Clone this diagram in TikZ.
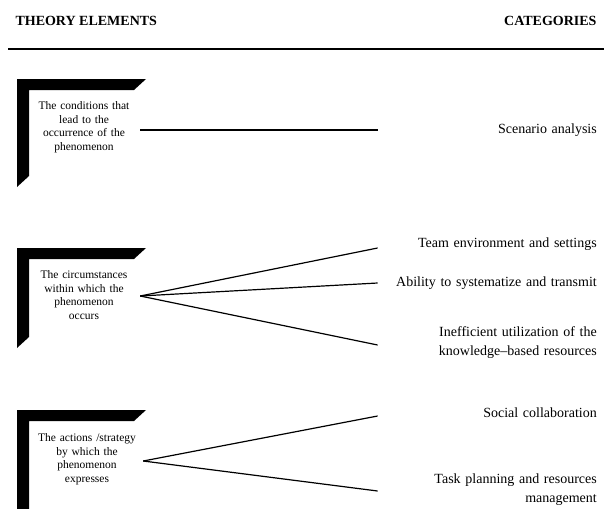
\documentclass[tikz,border=0pt]{standalone}
\usepackage{fontspec}
\setmainfont{Liberation Serif}
\usetikzlibrary{positioning}

\tikzset{
  element/.style={align=center, text width=100pt, inner xsep=6pt, font=\fontsize{11.5}{13.5}\selectfont},
  category/.style={anchor=east, align=right, text width=216pt, inner sep=3pt, font=\fontsize{14}{19}\selectfont},
  header/.style={font=\fontsize{14}{16}\selectfont\bfseries},
  link/.style={line width=1.2pt},
}

\begin{document}
\begin{tikzpicture}[x=1pt,y=-1pt]
  \useasboundingbox (0,0) rectangle (611,509);
  % headers and rule
  \node[header, anchor=west] (hl) at (12,21) {THEORY ELEMENTS};
  \node[header, anchor=east] (hr) at (600,21) {CATEGORIES};
  \draw[line width=2.6pt] (8,49) -- (604,49);
  % frames
  \foreach \t/\b in {79/187, 248/348, 410/520}
    \fill (17,\t) -- (146,\t) -- (134,\t+11) -- (29,\t+11) -- (29,\b-11) -- (17,\b) -- cycle;
  % theory elements
  \node[element] (el1) at (84,127) {The conditions that\\lead to the\\occurrence of the\\phenomenon};
  \node[element] (el2) at (84,295) {The circumstances\\within which the\\phenomenon\\occurs};
  \node[element] (el3) at (87,459) {The actions /strategy\\by which the\\phenomenon\\expresses};
  % categories
  \node[category] (cat1) at (600,130) {Scenario analysis};
  \node[category] (cat2) at (600,244) {Team environment and settings};
  \node[category] (cat3) at (600,283) {Ability to systematize and transmit};
  \node[category] (cat4) at (600,343) {Inefficient utilization of the\\knowledge--based resources};
  \node[category] (cat5) at (600,413) {Social collaboration};
  \node[category] (cat6) at (600,490) {Task planning and resources\\management};
  \foreach \Source/\Target/\a/\b in {%
      el1/cat1/130/130,
      el2/cat2/296/248,
      el2/cat3/296/283,
      el2/cat4/296/345,
      el3/cat5/461/416,
      el3/cat6/461/491%
      }
    \draw[link] (\Source.east |- 0,\a) -- (\Target.west |- 0,\b);
\end{tikzpicture}
\end{document}
